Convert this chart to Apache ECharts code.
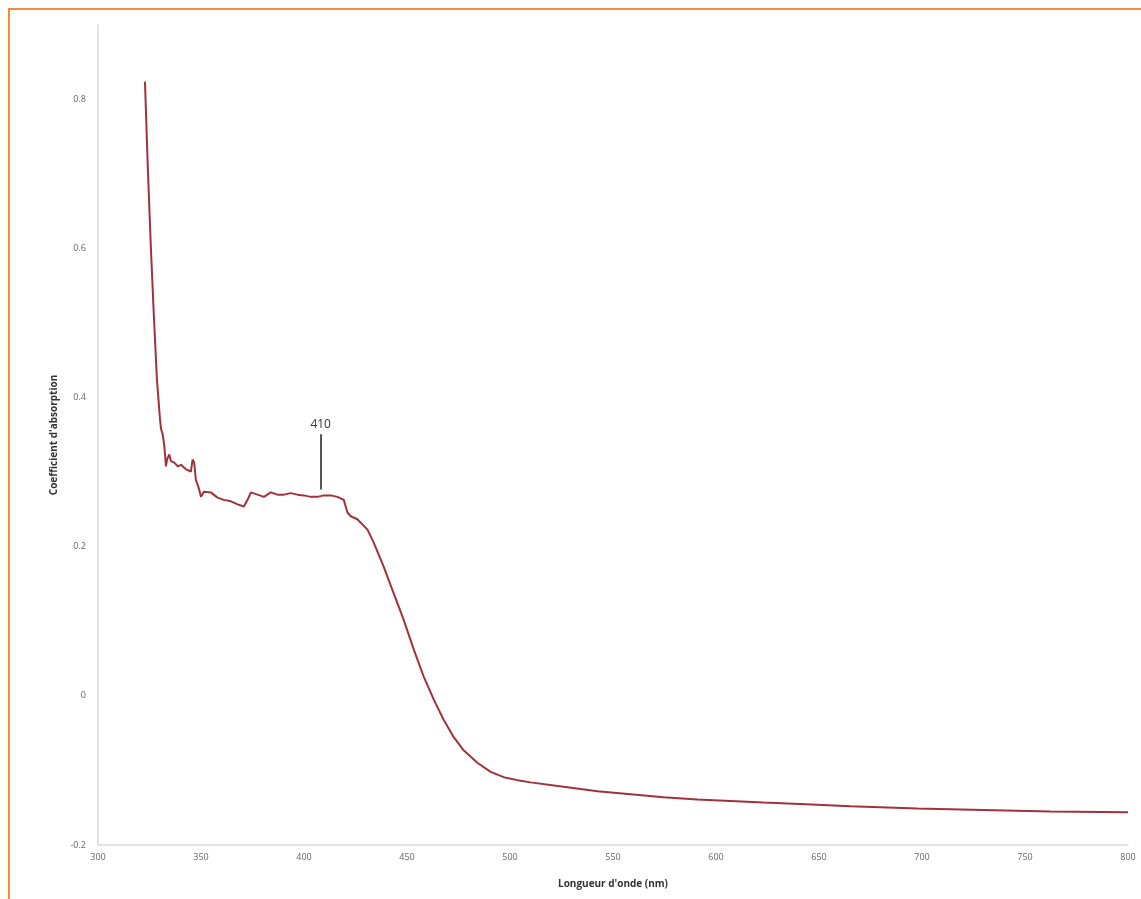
<!DOCTYPE html>
<html>
<head>
<meta charset="utf-8">
<script src="https://cdn.jsdelivr.net/npm/echarts@6/dist/echarts.min.js"></script>
<style>
html,body{margin:0;padding:0;background:#fff;}
#frame{position:absolute;left:8px;top:8px;width:1133px;height:891px;border-top:2px solid #f28c3c;border-left:2px solid #f28c3c;box-sizing:border-box;}
#chart{position:absolute;left:0;top:0;width:1141px;height:899px;}
</style>
</head>
<body>
<div id="frame"></div>
<div id="chart"></div>
<script>
// Wavelength (nm)
const wavelengths = [322.8,324.2,325.7,327.2,328.6,330.1,330.6,331.4,332.2,333.0,333.5,334.6,335.4,337.0,338.7,340.3,342.7,345.1,345.9,346.7,347.5,349.1,350.0,351.4,354.8,358.0,361.1,364.5,367.8,370.8,372.6,374.2,377.5,380.5,383.9,387.1,390.2,393.6,396.8,399.9,403.3,406.5,409.6,413.0,416.2,419.3,421.1,422.7,425.9,430.8,433.8,438.7,443.5,448.4,453.3,458.1,463.0,467.8,472.6,477.5,484.3,490.6,496.9,503.7,510.0,526.0,542.5,558.5,574.5,591.0,607.0,623.0,640.9,665.2,697.7,729.7,762.2,800.0];
// Absorption coefficient
const absorption = [0.824,0.707,0.599,0.505,0.425,0.371,0.358,0.351,0.335,0.308,0.317,0.324,0.315,0.313,0.308,0.310,0.304,0.301,0.317,0.313,0.290,0.277,0.267,0.274,0.273,0.266,0.263,0.261,0.257,0.254,0.263,0.273,0.270,0.267,0.273,0.270,0.270,0.272,0.270,0.269,0.267,0.267,0.269,0.269,0.267,0.263,0.246,0.241,0.237,0.223,0.206,0.173,0.138,0.102,0.062,0.026,-0.005,-0.032,-0.055,-0.073,-0.090,-0.102,-0.109,-0.113,-0.116,-0.122,-0.128,-0.132,-0.136,-0.139,-0.141,-0.143,-0.145,-0.148,-0.151,-0.153,-0.155,-0.156];
// Annotation
const peakLabel = '410';
const peakX = 408.1;
const peakLineY = [0.277, 0.351];

const chart = echarts.init(document.getElementById('chart'));
const seriesData = wavelengths.map((w, i) => [w, absorption[i]]);
chart.setOption({
  animation: false,
  backgroundColor: 'transparent',
  grid: {left: 98, right: 13, top: 25, bottom: 54},
  xAxis: {
    type: 'value', min: 300, max: 800, interval: 50,
    name: "Longueur d'onde (nm)", nameLocation: 'middle', nameGap: 34,
    nameTextStyle: {fontFamily: 'Open Sans', fontWeight: 'bold', fontSize: 10, color: '#333'},
    axisLine: {show: true, onZero: false, lineStyle: {color: '#d9d9d9', width: 1.5}},
    axisTick: {show: false},
    splitLine: {show: false},
    axisLabel: {fontFamily: 'Open Sans', fontSize: 9, color: '#666', margin: 8}
  },
  yAxis: {
    type: 'value', min: -0.2, max: 0.9, interval: 0.2,
    name: "Coefficient d'absorption", nameLocation: 'middle', nameGap: 38,
    nameTextStyle: {fontFamily: 'Open Sans', fontWeight: 'bold', fontSize: 10, color: '#333'},
    axisLine: {show: true, lineStyle: {color: '#d9d9d9', width: 1.5}},
    axisTick: {show: false},
    splitLine: {show: false},
    axisLabel: {fontFamily: 'Open Sans', fontSize: 9, color: '#666', margin: 12, showMaxLabel: false,
      formatter: v => String(Math.round(v * 10) / 10)}
  },
  series: [{
    type: 'line',
    data: seriesData,
    showSymbol: false,
    smooth: false,
    lineStyle: {color: '#a0323c', width: 2},
    markLine: {
      silent: true,
      symbol: ['none', 'none'],
      lineStyle: {color: '#555', width: 2, type: 'solid'},
      label: {show: true, position: 'end', formatter: peakLabel, fontFamily: 'Open Sans', fontSize: 12, color: '#333', distance: 4},
      data: [[{coord: [peakX, peakLineY[0]]}, {coord: [peakX, peakLineY[1]]}]]
    }
  }]
});
</script>
</body>
</html>
